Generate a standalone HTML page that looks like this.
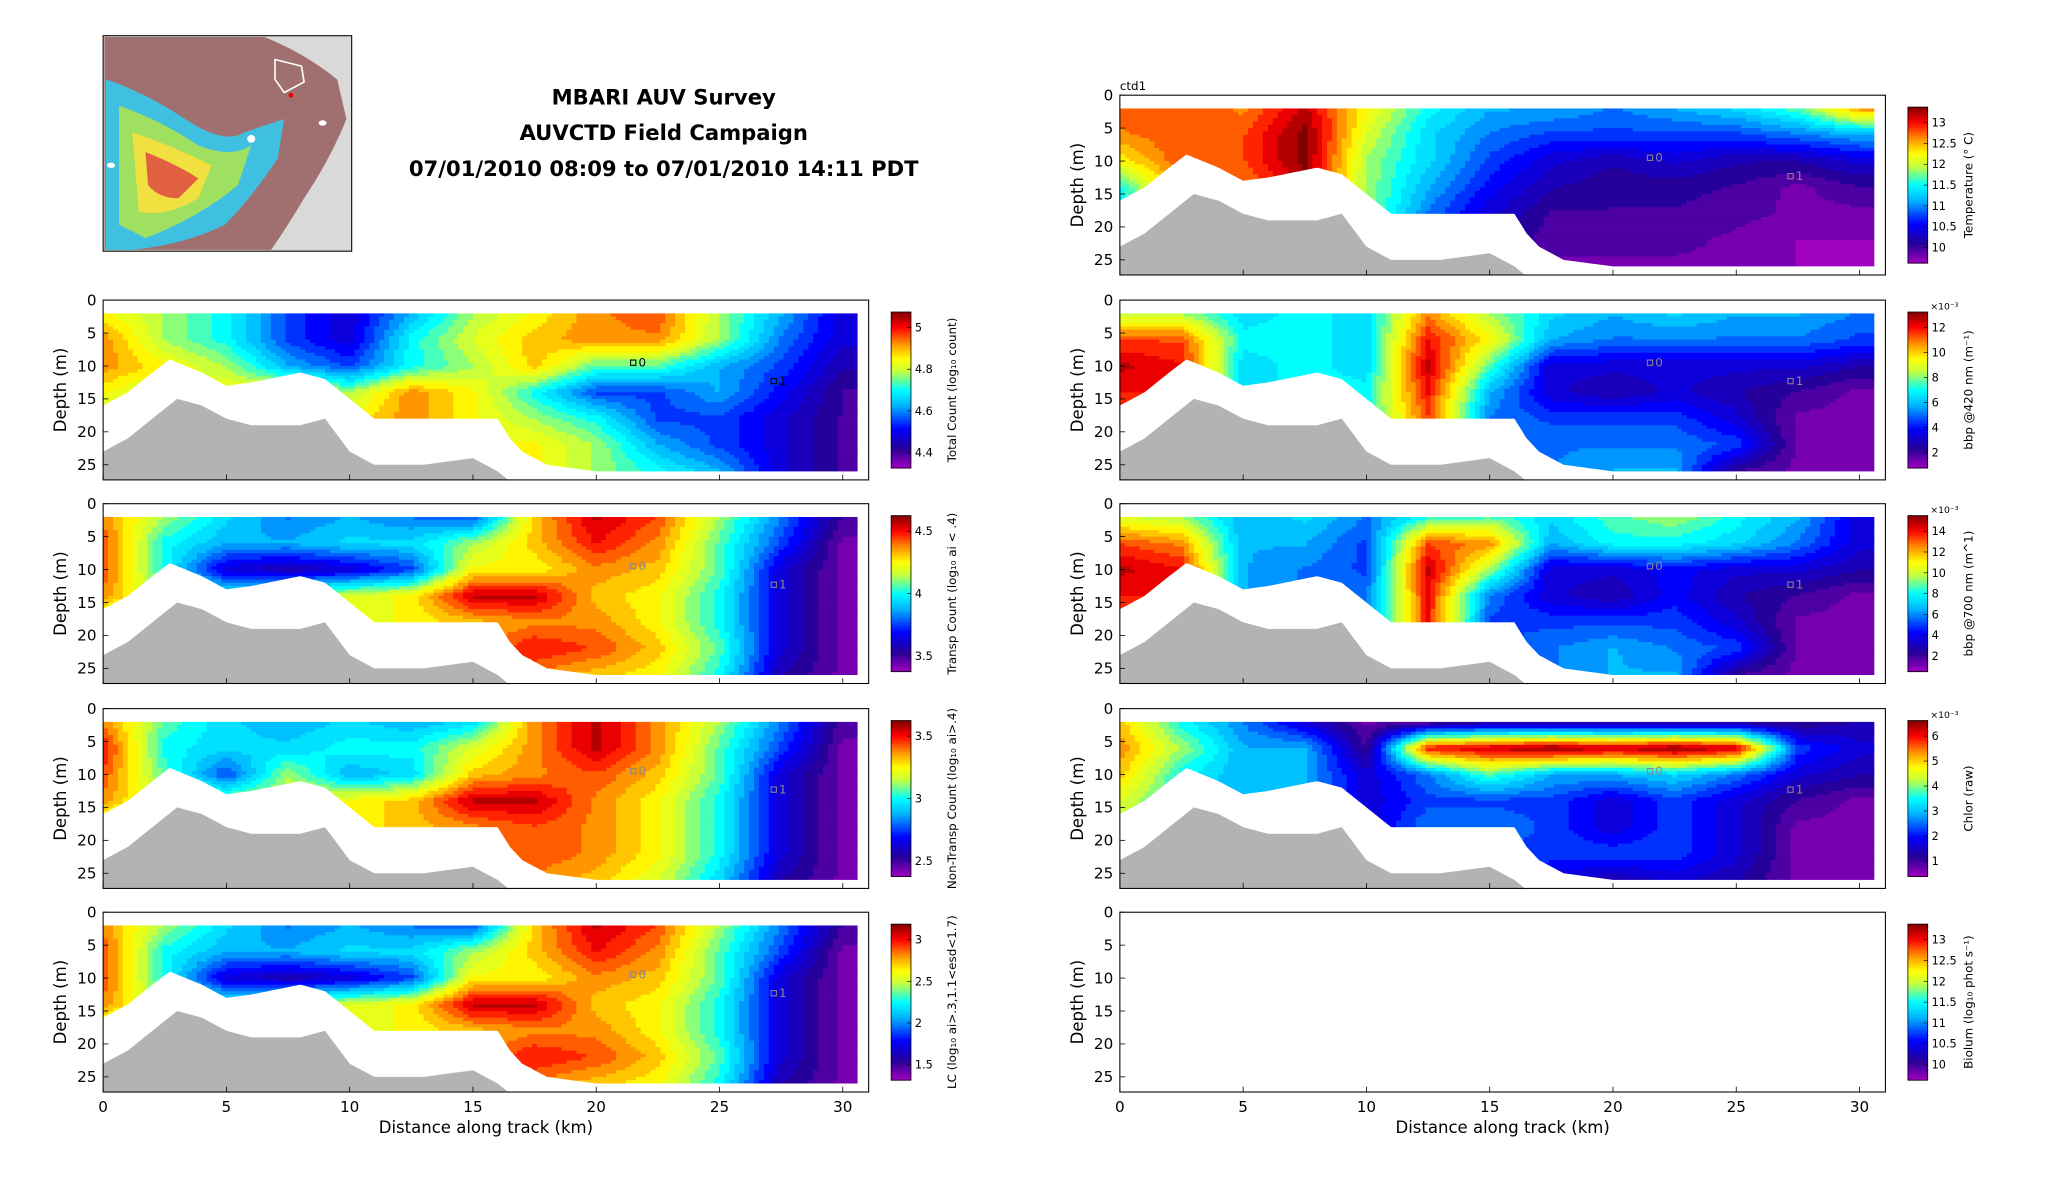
<!DOCTYPE html>
<html><head><meta charset="utf-8"><style>
html,body{margin:0;padding:0;background:#fff}
svg{display:block;font-family:"DejaVu Sans","Liberation Sans",sans-serif}
</style></head><body>
<svg id="fig" xmlns="http://www.w3.org/2000/svg" width="2052" height="1188" viewBox="0 0 1552 898.6" preserveAspectRatio="none">
<rect x="0" y="0" width="1552" height="899" fill="#fff"/>
<g>
<rect x="78" y="27" width="188" height="163" fill="#d9d9d9" stroke="#000" stroke-width="0.8"/>
<path d="M79,28 L200,28 Q230,40 255,60 L262,90 Q250,120 230,150 Q215,175 205,189 L79,189 Z" fill="#a07070"/>
<path d="M80,60 Q110,70 140,90 Q170,110 185,100 Q200,95 215,90 L210,120 Q190,150 170,170 Q140,185 100,189 L80,189 Z" fill="#40c0e0"/>
<path d="M90,80 Q120,90 150,110 Q175,120 190,110 L180,140 Q150,165 110,180 L90,170 Z" fill="#a0e060"/>
<path d="M100,100 Q130,110 160,125 L150,150 Q125,165 105,160 Z" fill="#f0e040"/>
<path d="M110,115 Q135,125 150,135 L135,150 Q120,150 112,140 Z" fill="#e06040"/>
<path d="M208,45 L228,50 L230,62 L215,70 L208,60 Z" fill="none" stroke="#fff" stroke-width="1.2"/>
<circle cx="220" cy="72" r="1.8" fill="#e00"/>
<ellipse cx="84" cy="125" rx="3" ry="2" fill="#fff"/>
<ellipse cx="244" cy="93" rx="3" ry="2" fill="#fff"/>
<ellipse cx="190" cy="105" rx="3" ry="3" fill="#fff"/>
</g>
<g font-weight="bold" font-size="16" text-anchor="middle">
<text x="502" y="79">MBARI AUV Survey</text>
<text x="502" y="106">AUVCTD Field Campaign</text>
<text x="502" y="133">07/01/2010 08:09 to 07/01/2010 14:11 PDT</text>
</g>
<g id="panels"></g>
</svg>
<script>
// ---- data ----
const distKm = [0,2.5,5,7.5,10,12.5,15,17.5,20,22.5,25,27.5,30];
const depthRows = [2,6,10,14,18,22,26];
const dataBottomKm = [0,1,2,2.7,4,5,6,8,9,10,11,16,16.5,17,18,20,30.6];
const dataBottomDepth = [16,14,11,9,11,13,12.5,11,12,15,18,18,21,23,25,26,26];
const terrainKm = [0,1,2,3,4,5,6,8,9,10,11,13,15,16,16.5];
const terrainDepth = [23,21,18,15,16,18,19,19,18,23,25,25,24,26,27.5];
const depthTicks = [0,5,10,15,20,25];
const distTicks = [0,5,10,15,20,25,30];
const markerKm = [21.5,27.2];
const markerDepth = [9.5,12.3];
const markerLabels = ['0','1'];

const totalCount = [
[.7,.6,.5,.3,.2,.4,.6,.7,.8,.85,.6,.4,.2],
[.8,.6,.5,.3,.2,.5,.65,.75,.8,.8,.6,.35,.2],
[.8,.7,.6,.4,.3,.5,.6,.75,.55,.55,.4,.3,.15],
[.7,.6,.7,.7,.6,.8,.7,.5,.3,.3,.4,.25,.1],
[.6,.6,.6,.7,.7,.8,.7,.6,.5,.3,.3,.2,.1],
[.6,.6,.6,.7,.7,.7,.7,.7,.6,.4,.3,.2,.1],
[.6,.6,.6,.7,.7,.7,.7,.7,.6,.5,.4,.2,.1]];
const transpCount = [
[.8,.6,.45,.35,.4,.35,.3,.75,.95,.85,.6,.35,.1],
[.85,.5,.4,.4,.45,.45,.6,.75,.9,.8,.55,.3,.05],
[.85,.5,.2,.15,.2,.3,.7,.7,.8,.75,.55,.2,.05],
[.8,.6,.5,.6,.65,.7,.95,.95,.75,.7,.5,.2,.05],
[.6,.5,.5,.6,.65,.7,.75,.8,.8,.7,.5,.2,.05],
[.6,.5,.5,.6,.65,.7,.8,.9,.85,.75,.55,.2,.05],
[.6,.5,.5,.6,.65,.7,.8,.8,.75,.7,.5,.15,.05]];
const nonTranspCount = [
[.8,.55,.45,.4,.45,.4,.45,.8,.95,.8,.6,.35,.08],
[.9,.5,.45,.45,.5,.5,.65,.8,.95,.8,.55,.3,.05],
[.85,.55,.3,.6,.4,.45,.75,.8,.85,.75,.55,.2,.05],
[.8,.6,.6,.65,.7,.75,.95,.95,.8,.7,.5,.2,.05],
[.6,.55,.55,.6,.7,.75,.8,.85,.8,.7,.5,.2,.05],
[.6,.55,.55,.6,.7,.75,.85,.85,.8,.7,.5,.2,.05],
[.6,.55,.55,.6,.7,.75,.8,.8,.75,.65,.45,.15,.05]];
const lcCount = [
[.8,.6,.45,.35,.4,.35,.3,.75,.95,.85,.6,.35,.1],
[.85,.5,.4,.4,.45,.45,.6,.75,.9,.8,.55,.3,.05],
[.85,.5,.2,.15,.2,.3,.7,.7,.8,.75,.55,.2,.05],
[.8,.6,.5,.6,.65,.7,.95,.95,.75,.7,.5,.2,.05],
[.6,.5,.5,.6,.65,.7,.75,.8,.8,.7,.5,.2,.05],
[.6,.5,.5,.6,.65,.7,.8,.9,.85,.75,.55,.2,.05],
[.6,.5,.5,.6,.65,.7,.8,.8,.75,.7,.5,.15,.05]];
const temperature = [
[.85,.85,.8,.95,.7,.5,.4,.4,.35,.4,.45,.55,.8],
[.8,.85,.85,1,.65,.45,.35,.3,.3,.3,.3,.35,.4],
[.7,.85,.85,1,.6,.45,.3,.2,.15,.2,.15,.15,.2],
[.5,.8,.8,.95,.6,.4,.25,.15,.12,.12,.1,.05,.1],
[.5,.8,.8,.9,.6,.35,.2,.1,.1,.1,.08,.05,.05],
[.5,.8,.8,.9,.6,.35,.15,.08,.08,.08,.05,.02,.02],
[.5,.8,.8,.9,.6,.35,.15,.05,.05,.05,.05,.02,.02]];
const bbp420 = [
[.6,.6,.45,.5,.45,.8,.6,.45,.4,.45,.4,.4,.35],
[.85,.85,.5,.5,.45,.9,.7,.4,.35,.35,.35,.35,.3],
[.95,.9,.45,.5,.45,.95,.55,.2,.2,.2,.2,.2,.15],
[.9,.9,.45,.5,.5,.9,.4,.2,.15,.2,.15,.1,.05],
[.8,.8,.45,.45,.5,.85,.35,.3,.3,.3,.2,.05,.05],
[.8,.8,.45,.45,.5,.5,.35,.35,.35,.35,.3,.05,.05],
[.8,.8,.45,.45,.5,.5,.35,.35,.4,.4,.1,.05,.05]];
const bbp700 = [
[.65,.6,.4,.45,.35,.5,.55,.45,.55,.6,.5,.4,.2],
[.85,.8,.4,.4,.3,.85,.8,.4,.5,.5,.45,.35,.2],
[.95,.9,.4,.35,.3,.95,.6,.2,.2,.25,.2,.2,.15],
[.9,.9,.4,.35,.35,.9,.35,.2,.15,.25,.15,.1,.05],
[.8,.8,.4,.35,.35,.9,.3,.3,.3,.3,.2,.05,.05],
[.8,.8,.4,.35,.35,.5,.3,.35,.4,.35,.3,.05,.05],
[.8,.8,.4,.35,.35,.5,.3,.35,.4,.4,.1,.05,.05]];
const chlor = [
[.75,.5,.35,.2,.05,.05,.1,.1,.1,.1,.1,.1,.15],
[.8,.6,.4,.4,.1,.9,.95,1,.95,1,.95,.3,.2],
[.75,.5,.4,.4,.2,.35,.55,.4,.4,.45,.35,.2,.15],
[.65,.5,.4,.4,.2,.3,.3,.3,.2,.3,.2,.1,.05],
[.6,.5,.4,.4,.2,.35,.35,.3,.2,.3,.2,.05,.05],
[.6,.5,.4,.4,.2,.35,.3,.3,.3,.3,.2,.05,.05],
[.6,.5,.4,.4,.2,.35,.3,.2,.15,.2,.15,.05,.05]];

const cbTotal = ['5','4.8','4.6','4.4'];
const cbTransp = ['4.5','4','3.5'];
const cbNonTransp = ['3.5','3','2.5'];
const cbLC = ['3','2.5','2','1.5'];
const cbTemp = ['13','12.5','12','11.5','11','10.5','10'];
const cbBbp420 = ['12','10','8','6','4','2'];
const cbBbp700 = ['14','12','10','8','6','4','2'];
const cbChlor = ['6','5','4','3','2','1'];
const cbBiolum = ['13','12.5','12','11.5','11','10.5','10'];

const NS='http://www.w3.org/2000/svg';
const root=document.getElementById('panels');
function mk(tag,attrs,parent){const e=document.createElementNS(NS,tag);for(const k in attrs)e.setAttribute(k,attrs[k]);(parent||root).appendChild(e);return e;}
const stops=[[0,[160,0,192]],[0.12,[40,0,150]],[0.25,[0,0,255]],[0.4,[0,180,255]],[0.5,[0,255,255]],[0.62,[200,255,60]],[0.7,[255,255,0]],[0.8,[255,140,0]],[0.9,[255,0,0]],[1,[128,0,0]]];
function cmap(v){v=Math.max(0,Math.min(1,v));for(let i=1;i<stops.length;i++){if(v<=stops[i][0]){const a=stops[i-1],b=stops[i];const t=(v-a[0])/(b[0]-a[0]);const c=a[1].map((x,j)=>Math.round(x+(b[1][j]-x)*t));return 'rgb('+c.join(',')+')';}}return 'rgb(128,0,0)';}
function interp1(xs,ys,x){if(x<=xs[0])return ys[0];for(let i=1;i<xs.length;i++){if(x<=xs[i]){const t=(x-xs[i-1])/(xs[i]-xs[i-1]);return ys[i-1]+(ys[i]-ys[i-1])*t;}}return ys[ys.length-1];}
function bilin(grid,km,d){const rowVals=grid.map(r=>interp1(distKm,r,km));return interp1(depthRows,rowVals,d);}

const XMAX=31.05,DMAX=27.3;
const panels=[
{x:78,y:227,data:totalCount,cb:cbTotal,label:'Total Count (log₁₀ count)',name:'total-count'},
{x:78,y:381,data:transpCount,cb:cbTransp,label:'Transp Count (log₁₀ ai < .4)',name:'transp-count'},
{x:78,y:536,data:nonTranspCount,cb:cbNonTransp,label:'Non-Transp Count (log₁₀ ai>.4)',name:'non-transp-count'},
{x:78,y:690,data:lcCount,cb:cbLC,label:'LC (log₁₀ ai>.3,1.1<esd<1.7)',name:'lc-count',xt:true},
{x:847,y:72,data:temperature,cb:cbTemp,label:'Temperature (° C)',name:'temperature',title:'ctd1'},
{x:847,y:227,data:bbp420,cb:cbBbp420,label:'bbp @420 nm (m⁻¹)',name:'bbp420',exp:true},
{x:847,y:381,data:bbp700,cb:cbBbp700,label:'bbp @700 nm (m^1)',name:'bbp700',exp:true},
{x:847,y:536,data:chlor,cb:cbChlor,label:'Chlor (raw)',name:'chlor',exp:true},
{x:847,y:690,data:null,cb:cbBiolum,label:'Biolum (log₁₀ phot s⁻¹)',name:'biolum',xt:true}];
const W=579,H=136;
panels.forEach((p,pi)=>{
  const g=mk('g',{});
  
  
  const sx=km=>p.x+km/XMAX*W, sy=d=>p.y+d/DMAX*H;
  if(p.data){
    const cid='clip'+pi;
    const cp=mk('clipPath',{id:cid},g);
    let pts=[[sx(0),sy(2)],[sx(30.6),sy(2)]];
    for(let i=dataBottomKm.length-1;i>=0;i--)pts.push([sx(dataBottomKm[i]),sy(dataBottomDepth[i])]);
    mk('polygon',{points:pts.map(q=>q.join(',')).join(' ')},cp);
    const hg=mk('g',{'clip-path':'url(#'+cid+')'},g);
    
    
    const dk=0.2,dd=0.5,L=24;
    for(let d=2;d<27;d+=dd){
      let runStart=0,runC=null;
      for(let k=0;k<=31;k+=dk){
        const v=bilin(p.data,k+dk/2,d+dd/2);
        const q=Math.round(v*L)/L;
        const c=cmap(q);
        if(c!==runC){
          if(runC)mk('rect',{x:sx(runStart),y:sy(d),width:sx(k)-sx(runStart)+0.4,height:sy(d+dd)-sy(d)+0.4,fill:runC},hg);
          runStart=k;runC=c;
        }
      }
      mk('rect',{x:sx(runStart),y:sy(d),width:sx(31)-sx(runStart)+0.4,height:sy(d+dd)-sy(d)+0.4,fill:runC},hg);
    }
    let tp=terrainKm.map((k,i)=>[sx(k),sy(terrainDepth[i])]);
    tp.push([sx(16.5),sy(DMAX)],[sx(0),sy(DMAX)]);
    const ter=mk('polygon',{points:tp.map(q=>q.join(',')).join(' '),fill:'#b3b3b3'},g);
    
    
    markerKm.forEach((k,i)=>{
      const m=mk('rect',{x:sx(k)-2,y:sy(markerDepth[i])-2,width:4,height:4,fill:'none',stroke:pi==0?'#000':'#888','stroke-width':0.8},g);
      
      
      const t=mk('text',{x:sx(k)+4,y:sy(markerDepth[i])+3,'font-size':9,fill:pi==0?'#000':'#888'},g);
      t.textContent=markerLabels[i];
    });
  }
  const fr=mk('rect',{x:p.x,y:p.y,width:W,height:H,fill:'none',stroke:'#000','stroke-width':0.8},g);
  
  
  depthTicks.forEach(d=>{
    mk('line',{x1:p.x,x2:p.x+4,y1:sy(d),y2:sy(d),stroke:'#000','stroke-width':0.6},g);
    const t=mk('text',{x:p.x-5,y:sy(d)+4,'font-size':11.5,'text-anchor':'end'},g);
    
    
    t.textContent=d;
  });
  distTicks.forEach(k=>{
    mk('line',{x1:sx(k),x2:sx(k),y1:p.y+H,y2:p.y+H-4,stroke:'#000','stroke-width':0.6},g);
    if(p.xt){const t=mk('text',{x:sx(k),y:p.y+H+15,'font-size':11.5,'text-anchor':'middle'},g);
    
    
    t.textContent=k;}
  });
  if(p.xt){const t=mk('text',{x:p.x+W/2,y:p.y+H+31,'font-size':12.5,'text-anchor':'middle'},g);
    
    
    t.textContent='Distance along track (km)';}
  const yl=mk('text',{x:0,y:0,'font-size':12.5,'text-anchor':'middle',transform:'translate('+(p.x-28)+','+(p.y+H/2)+') rotate(-90)'},g);
  
  
  yl.textContent='Depth (m)';
  if(p.title){const t=mk('text',{x:p.x,y:p.y-4,'font-size':9},g);t.textContent=p.title;}
  const cx=p.x+W+17,cy=p.y+9,ch=118,cw=15;
  const cbg=mk('g',{},g);
  
  
  for(let i=0;i<60;i++){mk('rect',{x:cx,y:cy+ch*(i/60),width:cw,height:ch/60+0.4,fill:cmap(1-(i+0.5)/60)},cbg);}
  mk('rect',{x:cx,y:cy,width:cw,height:ch,fill:'none',stroke:'#000','stroke-width':0.6},cbg);
  const n=p.cb.length;
  p.cb.forEach((lab,i)=>{
    const yy=cy+ch*(0.1+0.8*i/(n-1));
    mk('line',{x1:cx+cw-3,x2:cx+cw,y1:yy,y2:yy,stroke:'#000','stroke-width':0.5},cbg);
    const t=mk('text',{x:cx+cw+3,y:yy+3,'font-size':8.5},cbg);
    
    
    t.textContent=lab;
  });
  if(p.exp){const t=mk('text',{x:cx+cw+2,y:cy-2,'font-size':7},cbg);t.textContent='×10⁻³';}
  const cl=mk('text',{x:0,y:0,'font-size':9,'text-anchor':'middle',transform:'translate('+(cx+cw+34)+','+(cy+ch/2)+') rotate(-90)'},cbg);
  
  
  cl.textContent=p.label;
});
</script>
</body></html>
